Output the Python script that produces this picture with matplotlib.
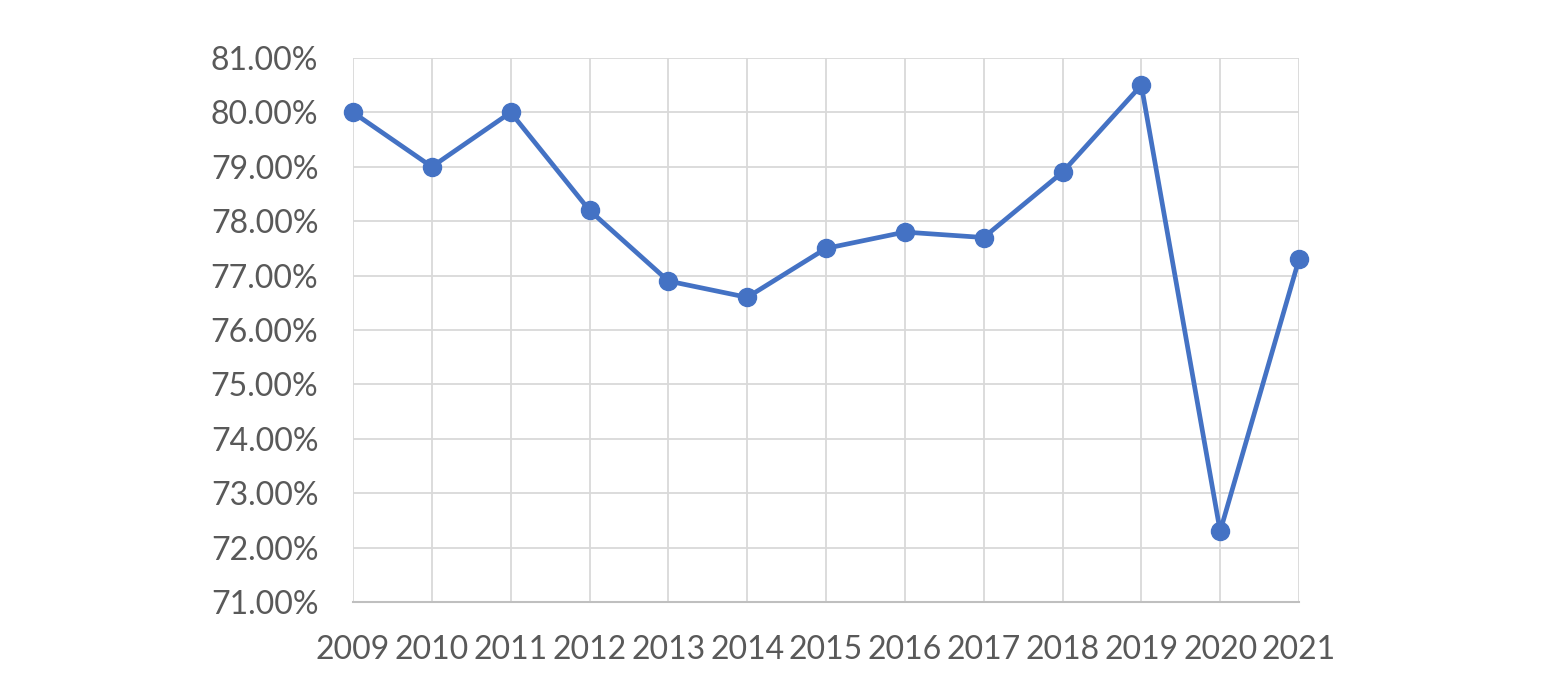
import matplotlib
matplotlib.use("Agg")
import matplotlib.pyplot as plt
from matplotlib.ticker import FuncFormatter, MultipleLocator

# Daten
years = ["2009", "2010", "2011", "2012", "2013", "2014", "2015",
         "2016", "2017", "2018", "2019", "2020", "2021"]
rates = [80.0, 79.0, 80.0, 78.2, 76.9, 76.6, 77.5,
         77.8, 77.7, 78.9, 80.5, 72.3, 77.3]

LINE_COLOUR = "#4472C4"
GRID_COLOUR = "#D9D9D9"
TEXT_COLOUR = "#595959"

plt.rcParams["font.family"] = ["Lato", "DejaVu Sans"]

fig = plt.figure(figsize=(15.44, 6.96), dpi=100)
ax = fig.add_axes([353 / 1544, 1 - 602 / 696, (1299 - 353) / 1544, (602 - 58) / 696])

x = list(range(len(years)))
ax.plot(x, rates, color=LINE_COLOUR, linewidth=3.4, marker="o",
        markersize=13, zorder=3, clip_on=False)

# Achsen
ax.set_xlim(0, len(years) - 1)
ax.set_ylim(71, 81)
ax.yaxis.set_major_locator(MultipleLocator(1))
ax.yaxis.set_major_formatter(FuncFormatter(lambda v, p: f"{v:.2f}%"))
ax.set_xticks(x)
ax.set_xticklabels(years)

ax.grid(True, color=GRID_COLOUR, linewidth=1.3, zorder=0)
ax.set_axisbelow(True)
for side in ["top", "right", "left"]:
    ax.spines[side].set_visible(False)
ax.spines["bottom"].set_color("#BFBFBF")
ax.spines["bottom"].set_linewidth(1.5)

ax.tick_params(axis="both", length=0, labelsize=23, colors=TEXT_COLOUR)
ax.tick_params(axis="y", pad=25)
ax.tick_params(axis="x", pad=24)

fig.savefig("out.png", dpi=100)
